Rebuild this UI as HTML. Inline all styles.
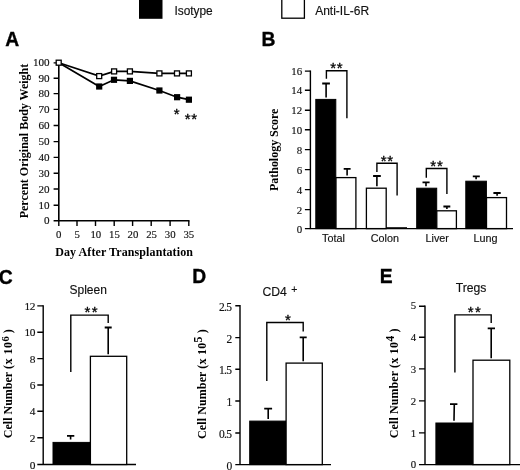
<!DOCTYPE html>
<html>
<head>
<meta charset="utf-8">
<title>Figure</title>
<style>
html,body{margin:0;padding:0;background:#fff;}
body{width:520px;height:470px;overflow:hidden;}
svg{display:block;}
.s{font-family:"Liberation Serif","Times New Roman",serif;fill:#111;stroke:#111;stroke-width:0.15;}
.sb{font-family:"Liberation Serif","Times New Roman",serif;font-weight:bold;fill:#000;}
.a{font-family:"Liberation Sans",Arial,sans-serif;fill:#111;stroke:#111;stroke-width:0.15;}
.p{font-family:"Liberation Sans",Arial,sans-serif;font-weight:bold;font-size:19.3px;fill:#000;stroke:#000;stroke-width:0.35;}
.ln{stroke:#000;stroke-width:1.4;fill:none;}
.bk{fill:#000;stroke:#000;stroke-width:1;}
.wh{fill:#fff;stroke:#000;stroke-width:1.3;}
.st{font-family:"Liberation Sans",Arial,sans-serif;font-size:15px;fill:#000;stroke:#000;stroke-width:0.3;}
</style>
</head>
<body>
<svg width="520" height="470" viewBox="0 0 520 470">
<rect x="0" y="0" width="520" height="470" fill="#fff"/>

<!-- legend -->
<g id="legend">
<rect x="139" y="-1" width="23.5" height="19.8" fill="#000"/>
<text class="a" x="174.4" y="15.4" font-size="11.9">Isotype</text>
<rect x="281.8" y="-1" width="22.6" height="19.2" class="wh"/>
<text class="a" x="315.2" y="15.2" font-size="12">Anti-IL-6R</text>
</g>

<!-- panel A -->
<g id="A">
<text class="p" x="5.3" y="45.6">A</text>
<path class="ln" style="stroke-width:1.6" d="M58.8,62.5 V220.7 H189.5"/>
<path class="ln" d="M53.6,62.9H58.8 M53.6,78.2H58.8 M53.6,93.6H58.8 M53.6,109.4H58.8 M53.6,125.5H58.8 M53.6,141.6H58.8 M53.6,157.4H58.8 M53.6,173.2H58.8 M53.6,189H58.8 M53.6,205.2H58.8 M53.6,220.7H58.8"/>
<path class="ln" d="M58.8,220.7V226 M77,220.7V226 M95.5,220.7V226 M114.2,220.7V226 M132.6,220.7V226 M151.2,220.7V226 M170.1,220.7V226 M188.8,220.7V226"/>
<g class="s" text-anchor="end" font-size="11.1">
<text x="49.6" y="66.4">100</text>
<text x="49.6" y="81.7">90</text>
<text x="49.6" y="97.1">80</text>
<text x="49.6" y="112.9">70</text>
<text x="49.6" y="129.0">60</text>
<text x="49.6" y="145.1">50</text>
<text x="49.6" y="160.9">40</text>
<text x="49.6" y="176.7">30</text>
<text x="49.6" y="192.5">20</text>
<text x="49.6" y="208.7">10</text>
<text x="49.6" y="224.2">0</text>
</g>
<g class="s" text-anchor="middle" font-size="10.8">
<text x="58.6" y="238.2">0</text>
<text x="77.2" y="238.2">5</text>
<text x="95.8" y="238.2">10</text>
<text x="114.4" y="238.2">15</text>
<text x="133" y="238.2">20</text>
<text x="151.6" y="238.2">25</text>
<text x="170.2" y="238.2">30</text>
<text x="188.8" y="238.2">35</text>
</g>
<text class="sb" font-size="12" text-anchor="middle" transform="translate(28,141) rotate(-90)">Percent Original Body Weight</text>
<text class="sb" font-size="12" letter-spacing="0.1" text-anchor="middle" x="124.1" y="256">Day After Transplantation</text>
<!-- filled series -->
<polyline class="ln" style="stroke-width:1.7" points="58.8,62.8 99.2,86.5 114,79.8 129.9,80.9 159.4,90.5 177.1,97.2 188.9,99.7"/>
<g fill="#000">
<rect x="96.1" y="83.4" width="6.2" height="6.2"/>
<rect x="110.9" y="76.7" width="6.2" height="6.2"/>
<rect x="126.8" y="77.8" width="6.2" height="6.2"/>
<rect x="156.3" y="87.4" width="6.2" height="6.2"/>
<rect x="174.0" y="94.1" width="6.2" height="6.2"/>
<rect x="185.8" y="96.6" width="6.2" height="6.2"/>
</g>
<!-- open series -->
<polyline class="ln" style="stroke-width:1.7" points="58.8,62.8 99.2,76.1 114.1,71.4 129.9,71.4 159.4,73.4 177,73.4 188.9,73.4"/>
<g class="wh" style="stroke-width:1.3">
<rect x="56.2" y="60.2" width="5.0" height="5.0"/>
<rect x="96.7" y="73.6" width="5.0" height="5.0"/>
<rect x="111.6" y="68.9" width="5.0" height="5.0"/>
<rect x="127.4" y="68.9" width="5.0" height="5.0"/>
<rect x="156.9" y="70.9" width="5.0" height="5.0"/>
<rect x="174.5" y="70.9" width="5.0" height="5.0"/>
<rect x="186.4" y="70.9" width="5.0" height="5.0"/>
</g>
<text class="st" x="176.7" y="119.3" text-anchor="middle">*</text>
<text class="st" letter-spacing="0.8" x="191.3" y="124.4" text-anchor="middle">**</text>
</g>

<!-- panel B -->
<g id="B">
<text class="p" x="261.5" y="45.6">B</text>
<path class="ln" d="M310.4,70.4 V228.65 H513"/>
<path class="ln" d="M304.9,71.1H310.4 M304.9,90.3H310.4 M304.9,110.2H310.4 M304.9,129.8H310.4 M304.9,149.6H310.4 M304.9,169.6H310.4 M304.9,189.6H310.4 M304.9,209.6H310.4 M304.9,228.65H310.4"/>
<g class="s" text-anchor="end" font-size="10.9">
<text x="302.2" y="75.2">16</text>
<text x="302.2" y="94.4">14</text>
<text x="302.2" y="114.3">12</text>
<text x="302.2" y="133.9">10</text>
<text x="302.2" y="153.7">8</text>
<text x="302.2" y="173.7">6</text>
<text x="302.2" y="193.7">4</text>
<text x="302.2" y="213.7">2</text>
<text x="302.2" y="232.7">0</text>
</g>
<text class="sb" font-size="12" text-anchor="middle" textLength="82.5" lengthAdjust="spacing" transform="translate(278.4,149.8) rotate(-90)">Pathology Score</text>
<!-- error bars -->
<path class="ln" style="stroke-width:1.6" d="M326.1,97.4V83.3 M347.1,175.6V168.6 M376.9,186.2V175.8 M426,186.2V182.2 M446.9,208.9V206.3 M476.1,179.3V176.2 M497.1,195.7V192.8"/>
<path class="ln" style="stroke-width:1.8" d="M322.2,83.5H329.9 M343.7,168.8H350.6 M373.1,176H380.8 M422.5,182.4H429.6 M443.4,206.5H450.3 M472.8,176.4H479.8 M493.4,193H500.7"/>
<!-- bars -->
<rect class="bk" x="315.8" y="99.4" width="20" height="129.2"/>
<rect class="wh" x="336" y="177.6" width="19.9" height="51"/>
<rect class="wh" x="366.4" y="188.2" width="19.8" height="40.4"/>
<path class="ln" d="M386.2,227.9H407"/>
<rect class="bk" x="416.7" y="188.2" width="20" height="40.4"/>
<rect class="wh" x="436.8" y="210.8" width="19.6" height="17.8"/>
<rect class="bk" x="465.8" y="181.2" width="20.6" height="47.4"/>
<rect class="wh" x="486.5" y="197.6" width="20" height="31"/>
<!-- brackets -->
<path class="ln" d="M326.4,78.8V70.7H346.9V118.3"/>
<path class="ln" d="M376.9,171.9V163.3H397.1V195.4"/>
<path class="ln" d="M426.3,177.7V168.5H446.9V194"/>
<text class="st" letter-spacing="0.8" x="336.8" y="73.4" text-anchor="middle">**</text>
<text class="st" letter-spacing="0.8" x="387.3" y="166.0" text-anchor="middle">**</text>
<text class="st" letter-spacing="0.8" x="436.9" y="170.9" text-anchor="middle">**</text>
<g class="a" font-size="10.8" text-anchor="middle">
<text x="333.4" y="241.9">Total</text>
<text x="384.8" y="241.9">Colon</text>
<text x="437.2" y="241.9">Liver</text>
<text x="485.6" y="241.9">Lung</text>
</g>
</g>

<!-- panel C -->
<g id="C">
<text class="p" x="-1.2" y="283.8">C</text>
<text class="a" font-size="12" x="88.2" y="294.3" text-anchor="middle">Spleen</text>
<path class="ln" d="M43.2,305.2 V464.5 M37.3,464.5H136"/>
<path class="ln" d="M37.3,305.9H43.2 M37.3,332.3H43.2 M37.3,358.6H43.2 M37.3,385H43.2 M37.3,411.3H43.2 M37.3,437.8H43.2"/>
<g class="s" text-anchor="end" font-size="11.4">
<text x="34.9" y="309.9" letter-spacing="-0.5">12</text>
<text x="34.9" y="336.3" letter-spacing="-0.5">10</text>
<text x="35.5" y="362.6">8</text>
<text x="35.5" y="389.0">6</text>
<text x="35.5" y="415.3">4</text>
<text x="35.5" y="441.8">2</text>
<text x="35.5" y="468.5">0</text>
</g>
<text class="sb" font-size="12" text-anchor="middle" transform="translate(11.6,383.75) rotate(-90)">Cell Number <tspan letter-spacing="0.5">(x 10</tspan><tspan dy="-3" font-size="10.5">6</tspan><tspan dy="3"> )</tspan></text>
<path class="ln" style="stroke-width:1.6" d="M70.6,439.6V435.8 M108.2,354.2V327.3"/>
<path class="ln" style="stroke-width:1.8" d="M67,435.9H74.3 M104.7,327.5H111.7"/>
<rect class="bk" x="53" y="442.4" width="37" height="22.1"/>
<rect class="wh" x="90.4" y="356.3" width="36.3" height="108.2"/>
<path class="ln" d="M70.8,371.9V315.1H108.2V323"/>
<text class="st" letter-spacing="1.3" x="91.7" y="316.8" text-anchor="middle">**</text>
</g>

<!-- panel D -->
<g id="D">
<text class="p" x="192.2" y="283.3">D</text>
<text class="a" font-size="12.2" x="262.5" y="295.6">CD4</text>
<text class="a" font-size="10.5" x="291.2" y="292.7">+</text>
<path class="ln" d="M240,305.1 V464.6 M235.3,464.6H331"/>
<path class="ln" d="M235.3,305.8H240 M235.3,337.6H240 M235.3,369.2H240 M235.3,401H240 M235.3,433H240"/>
<g class="s" text-anchor="end" font-size="11.5">
<text x="231.5" y="310.8" letter-spacing="-0.6">2.5</text>
<text x="232.2" y="342.6">2</text>
<text x="231.5" y="374.2" letter-spacing="-0.6">1.5</text>
<text x="232.2" y="406.0">1</text>
<text x="231.5" y="438.0" letter-spacing="-0.6">0.5</text>
<text x="232.2" y="469.6">0</text>
</g>
<text class="sb" font-size="12" letter-spacing="0.1" text-anchor="middle" transform="translate(206.2,384.0) rotate(-90)">Cell Number <tspan letter-spacing="0.25">(x 10</tspan><tspan dy="-3.8" font-size="12">5</tspan><tspan dy="3.8"> )</tspan></text>
<path class="ln" style="stroke-width:1.6" d="M268.2,419.1V408.4 M303.2,361.2V337.1"/>
<path class="ln" style="stroke-width:1.8" d="M264.2,408.6H272.1 M299.7,337.3H306.7"/>
<rect class="bk" x="249.7" y="421.1" width="36.3" height="43.5"/>
<rect class="wh" x="286.1" y="363.1" width="36.2" height="101.5"/>
<path class="ln" d="M266.8,381V322.5H303.2V331.5"/>
<text class="st" x="288.0" y="325" text-anchor="middle">*</text>
</g>

<!-- panel E -->
<g id="E">
<text class="p" x="379.8" y="283.3">E</text>
<text class="a" font-size="12.2" x="471.1" y="292.2" text-anchor="middle">Tregs</text>
<path class="ln" d="M425,305.6 V464.6 M419,464.6H520"/>
<path class="ln" d="M419,306.3H425 M419,337.3H425 M419,368.9H425 M419,400.9H425 M419,432.9H425"/>
<g class="s" text-anchor="end" font-size="10.8">
<text x="416.2" y="309.4">5</text>
<text x="416.2" y="341.2">4</text>
<text x="416.2" y="372.5">3</text>
<text x="416.2" y="404.5">2</text>
<text x="416.2" y="436.5">1</text>
<text x="416.2" y="468.2">0</text>
</g>
<text class="sb" font-size="12" letter-spacing="0.1" text-anchor="middle" transform="translate(397.9,383.3) rotate(-90)">Cell Number <tspan letter-spacing="0.25">(x 10</tspan><tspan dy="-3.5" font-size="12">4</tspan><tspan dy="3.5"> )</tspan></text>
<path class="ln" style="stroke-width:1.6" d="M454,420.8L454.3,404 M491.2,358.2V328.2"/>
<path class="ln" style="stroke-width:1.8" d="M450,404.1H457.4 M487.7,328.4H495"/>
<rect class="bk" x="435.9" y="423" width="37" height="41.6"/>
<rect class="wh" x="473" y="360.2" width="36.8" height="104.4"/>
<path class="ln" d="M454.9,372.4V314.9H491.2V323"/>
<text class="st" letter-spacing="1.3" x="474.9" y="317.3" text-anchor="middle">**</text>
</g>
</svg>
</body>
</html>
